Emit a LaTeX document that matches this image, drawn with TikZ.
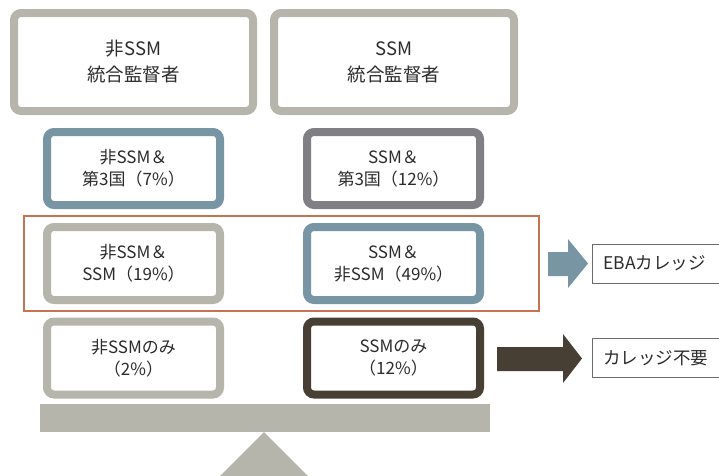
\documentclass[tikz,border=0pt]{standalone}
\usepackage{fontspec}
\setmainfont{Noto Sans CJK JP}
\definecolor{lgray}{HTML}{B5B5AB}
\definecolor{bgray}{HTML}{7895A3}
\definecolor{dgray}{HTML}{808084}
\definecolor{dbrown}{HTML}{473F34}
\definecolor{rust}{HTML}{C8734F}
\definecolor{txt}{HTML}{2B2B2B}
\begin{document}
\begin{tikzpicture}[x=1pt,y=-1pt,
    lbl/.style={draw=txt!70,line width=0.8pt,anchor=west,minimum height=39pt,
      text width=118pt,inner xsep=11pt,align=left,text=txt,font=\fontsize{17.5}{20}\selectfont}]
\useasboundingbox (0,0) rectangle (719,475);

\begin{scope}[every node/.style={rectangle,rounded corners=7pt,line width=8pt,fill=white,
    align=center,text=txt,font=\fontsize{17}{22}\selectfont,
    minimum width=173pt,minimum height=73pt,inner sep=0pt}]
  \node[draw=lgray,minimum width=239pt,minimum height=98pt,font=\fontsize{18.5}{26}\selectfont] (NT) at (133.5,62) {非SSM\\統合監督者};
  \node[draw=lgray,minimum width=240pt,minimum height=98pt,font=\fontsize{18.5}{26}\selectfont] (ST) at (394,62) {SSM\\統合監督者};
  \node[draw=bgray] (N3) at (133.5,168.5) {非SSM＆\\第3国（7\%）};
  \node[draw=dgray] (S3) at (393.5,168.5) {SSM＆\\第3国（12\%）};
  \node[draw=lgray] (NS) at (133.5,263.5) {非SSM＆\\SSM（19\%）};
  \node[draw=bgray] (SN) at (393.5,263.5) {SSM＆\\非SSM（49\%）};
  \node[draw=lgray] (NO) at (133.5,358) {非SSMのみ\\（2\%）};
  \node[draw=dbrown] (SO) at (393.5,358) {SSMのみ\\（12\%）};
\end{scope}

% EBA group frame
\draw[rust,line width=2pt] (24,216) rectangle (539,311);

% balance
\fill[lgray] (40,404) rectangle (490,432);
\fill[lgray] (264,432) -- (219,477) -- (309,477) -- cycle;

% block arrows
\fill[bgray] (548,252) -- (568,252) -- (568,239) -- (588,263.5) -- (568,288) -- (568,276) -- (548,276) -- cycle;
\fill[dbrown] (497,347) -- (563,347) -- (563,334) -- (582,358.5) -- (563,383) -- (563,371) -- (497,371) -- cycle;

\node[lbl] (eba) at (592,263.5) {EBAカレッジ};
\node[lbl] (none) at (592,358) {カレッジ不要};
\end{tikzpicture}
\end{document}
